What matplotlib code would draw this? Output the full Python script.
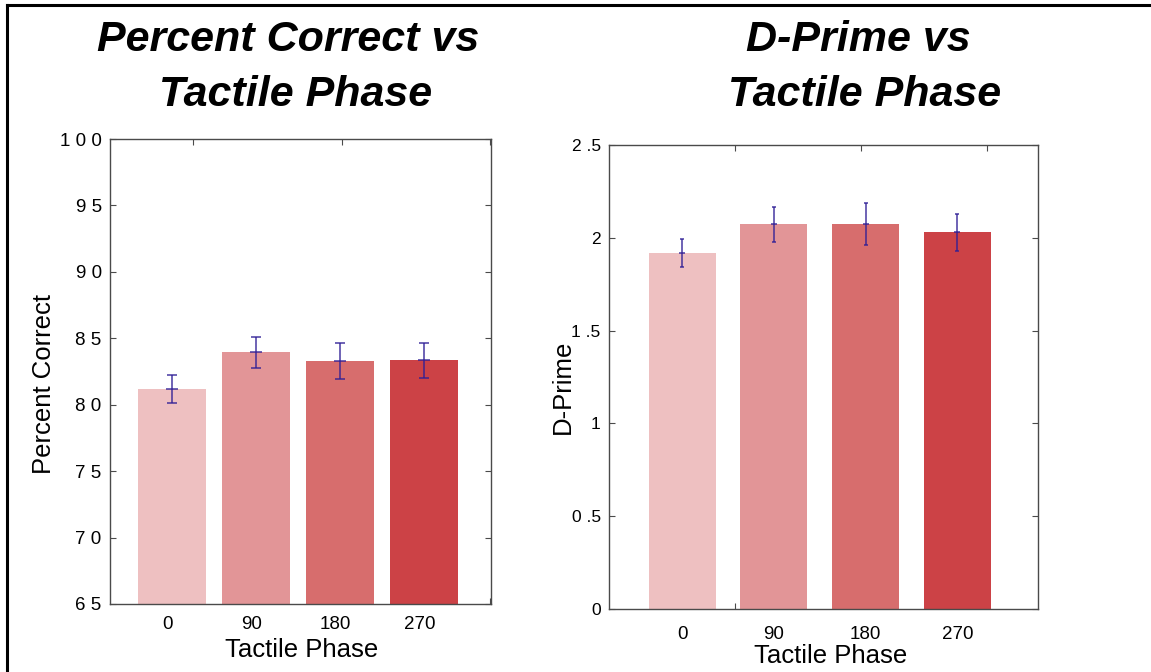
import matplotlib
matplotlib.use("Agg")
import matplotlib.pyplot as plt
from matplotlib.lines import Line2D

plt.rcParams['font.family'] = ['Liberation Sans', 'DejaVu Sans']

phases = ["0", "90", "180", "270"]
pc_values = [81.15, 83.95, 83.3, 83.33]
pc_err = [1.05, 1.17, 1.35, 1.3]
dp_values = [1.918, 2.073, 2.076, 2.030]
dp_err = [0.078, 0.095, 0.114, 0.1]
bar_colors = ["#EEC0C1", "#E29597", "#D76D6D", "#CC4246"]
pc_yticks = [65, 70, 75, 80, 85, 90, 95, 100]
pc_yticklabels = ["6 5", "7 0", "7 5", "8 0", "8 5", "9 0", "9 5", "1 0 0"]
dp_yticks = [0, 0.5, 1, 1.5, 2, 2.5]
dp_yticklabels = ["0", "0 .5", "1", "1 .5", "2", "2 .5"]

W, H = 1151, 672
fig = plt.figure(figsize=(W / 100, H / 100), dpi=100)

def fx(px):
    return px / W

def fy(py):
    return 1 - py / H

spine_col = "#4a4a4a"
err_col = "#2E1E96"

def style(ax, ls):
    for s in ax.spines.values():
        s.set_color(spine_col)
        s.set_linewidth(1.0)
    ax.tick_params(direction="in", length=4, width=0.8, color=spine_col,
                   top=True, right=True, labelsize=ls, pad=6)

x = list(range(len(phases)))

# Left axes
ax1 = fig.add_axes([fx(110), fy(604), fx(491 - 110), (604 - 139) / H])
ax1.bar(x, pc_values, width=0.81, color=bar_colors, edgecolor="none", zorder=2)
ax1.errorbar(x, pc_values, yerr=pc_err, fmt="_", markersize=8, markeredgewidth=1.3,
             color=err_col, ecolor=err_col, elinewidth=1.3, capsize=3.3,
             capthick=1.2, alpha=0.75, zorder=3)
ax1.set_xlim(-0.738, 3.798)
ax1.set_ylim(65, 100)
ax1.set_yticks(pc_yticks)
ax1.set_yticklabels(pc_yticklabels)
ax1.set_xticks([0.25, 2.02, 3.786])
ax1.set_xticklabels([])
style(ax1, 13.5)
for xi, lab in zip(x, phases):
    ax1.annotate(lab, xy=(xi, 65), xycoords="data", xytext=(-3, -9),
                 textcoords="offset points", ha="center", va="top", fontsize=13.5)
ax1.set_ylabel("Percent Correct", fontsize=18.5)
ax1.yaxis.set_label_coords(-0.142, 0.473)
fig.text(fx(302), fy(650), "Tactile Phase", ha="center", va="center", fontsize=18.5)

# Right axes
ax2 = fig.add_axes([fx(609), fy(609), fx(1038 - 609), (609 - 145) / H])
ax2.bar(x, dp_values, width=0.73, color=bar_colors, edgecolor="none", zorder=2)
ax2.errorbar(x, dp_values, yerr=dp_err, fmt="_", markersize=4, markeredgewidth=1.3,
             color=err_col, ecolor=err_col, elinewidth=1.3, capsize=1.3,
             capthick=1.2, alpha=0.75, zorder=3)
ax2.set_xlim(-0.796, 3.88)
ax2.set_ylim(0, 2.5)
ax2.set_yticks(dp_yticks)
ax2.set_yticklabels(dp_yticklabels)
ax2.set_xticks([0.578, 1.952, 3.326])
ax2.set_xticklabels([])
style(ax2, 12.5)
for xi, lab in zip(x, phases):
    ax2.annotate(lab, xy=(xi, 0), xycoords="data", xytext=(0, -12),
                 textcoords="offset points", ha="center", va="top", fontsize=13.5)
ax2.set_ylabel("D-Prime", fontsize=18.5)
ax2.yaxis.set_label_coords(-0.079, 0.478)
fig.text(fx(831), fy(656), "Tactile Phase", ha="center", va="center", fontsize=18.5)

# Titles
tkw = dict(ha="center", va="baseline", fontsize=31, fontweight="bold", fontstyle="italic")
fig.text(fx(288), fy(51), "Percent Correct vs", **tkw)
fig.text(fx(296), fy(106), "Tactile Phase", **tkw)
fig.text(fx(858), fy(51), "D-Prime vs", **tkw)
fig.text(fx(865), fy(106), "Tactile Phase", **tkw)

# Frame lines
fig.add_artist(Line2D([fx(7), fx(7)], [fy(5), 0], transform=fig.transFigure,
                      color="black", linewidth=2.2))
fig.add_artist(Line2D([fx(7), 1], [fy(5), fy(5)], transform=fig.transFigure,
                      color="black", linewidth=2.2))

fig.savefig("out.png", dpi=100)
